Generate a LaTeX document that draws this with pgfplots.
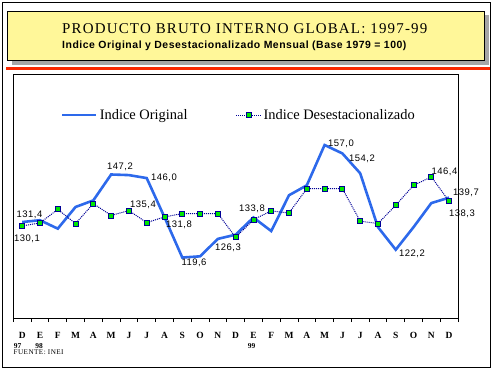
\documentclass[border=0pt]{standalone}
\usepackage{pgfplots}
\pgfplotsset{compat=1.18}
\usepackage{fontspec}
\setmainfont{Liberation Serif}
\newfontfamily\arial{Liberation Sans}
\newfontfamily\arialsp[LetterSpace=5]{Liberation Sans}
\newfontfamily\titlefont[LetterSpace=8]{Liberation Serif}
\newfontfamily\smallsp[LetterSpace=6]{Liberation Serif}
\definecolor{origblue}{RGB}{45,105,235}
\definecolor{navy}{RGB}{0,0,150}
\definecolor{mkgreen}{RGB}{0,230,0}
\definecolor{boxyellow}{RGB}{255,247,153}
\definecolor{redline}{RGB}{250,40,0}
\pgfplotsset{
  origleg/.style={legend image code/.code={\draw[##1] (0bp,0bp) -- (34bp,0bp);}},
  desleg/.style={legend image code/.code={\draw[mark repeat=2, mark phase=2, ##1] plot coordinates {(0bp,0bp) (12.5bp,0bp) (25bp,0bp)};}}
}
\begin{document}
\begin{tikzpicture}[x=1bp,y=1bp]
\path (0,0) rectangle (493,371);
\draw[line width=1bp] (2.5,4) rectangle (490.5,368);
\fill[gray!70] (11.5,306.3) rectangle (488.5,356);
\draw[line width=0.8bp, fill=boxyellow] (7.5,310.7) rectangle (484.5,359.7);
\node[anchor=base west, inner sep=0pt] at (62,337.7) {\titlefont\fontsize{15}{18}\selectfont PRODUCTO BRUTO INTERNO GLOBAL: 1997-99};
\node[anchor=base west, inner sep=0pt] at (62,322.5) {\arialsp\bfseries\fontsize{10.5}{12}\selectfont Indice Original y Desestacionalizado Mensual (Base 1979 = 100)};
\draw[redline, line width=3bp] (6,302.7) -- (490,302.7);
\begin{axis}[at={(13.3bp,53bp)}, anchor=south west, scale only axis,
  width=444.7bp, height=243.7bp,
  xmin=-0.5, xmax=24.5, ymin=99.5, ymax=180.5,
  axis line style={line width=1bp},
  ytick=\empty,
  xtick={0,...,24},
  xticklabels={D,E,F,M,A,M,J,J,A,S,O,N,D,E,F,M,A,M,J,J,A,S,O,N,D},
  major tick length=0pt,
  minor xtick={-0.5,0.5,...,24.5},
  minor tick length=4bp,
  tick align=outside, tick pos=bottom,
  minor tick style={black, line width=0.8bp},
  xticklabel style={font=\bfseries\fontsize{9.5}{10}\selectfont, anchor=north, inner sep=0pt, text height=6.5bp, yshift=-14bp},
  clip=false,
  legend style={at={(0.1005,0.833)}, anchor=west, draw=none, fill=none,
    legend columns=2, font=\fontsize{14.5}{16}\selectfont,
    /tikz/every even column/.append style={column sep=46bp}},
]
\addplot[origblue, line width=2.6bp, mark=none, origleg] coordinates {
(0,131.4) (1,132.0) (2,129.2) (3,136.4) (4,138.6) (5,147.2) (6,147.0) (7,146.0)
(8,133.0) (9,119.6) (10,120.0) (11,125.8) (12,127.2) (13,132.9) (14,128.4)
(15,140.3) (16,143.6) (17,157.0) (18,154.2) (19,147.6) (20,129.7) (21,122.2)
(22,129.7) (23,137.7) (24,139.5)};
\addlegendentry{Indice Original}
\addplot[navy, line width=1bp, densely dotted, mark=square*, mark size=2.5bp,
  mark options={solid, fill=mkgreen, draw=navy, line width=0.8bp}, desleg] coordinates {
(0,130.1) (1,131.1) (2,135.6) (3,130.9) (4,137.5) (5,133.6) (6,135.2) (7,131.2)
(8,133.1) (9,134.2) (10,134.2) (11,134.2) (12,126.3) (13,132.2) (14,135.1)
(15,134.4) (16,142.5) (17,142.5) (18,142.5) (19,131.7) (20,130.9) (21,137.0)
(22,143.6) (23,146.4) (24,138.3)};
\addlegendentry{Indice Desestacionalizado}
\end{axis}
\begin{scope}[every node/.style={font=\arialsp\fontsize{9.5}{10}\selectfont, inner sep=0pt}]
\node at (29.5,156) {131,4};
\node at (27,132) {130,1};
\node at (120,204) {147,2};
\node at (164,193) {146,0};
\node at (143,166) {135,4};
\node at (179,146) {131,8};
\node at (194,108) {119,6};
\node at (228,123) {126,3};
\node at (252,162) {133,8};
\node at (341,227) {157,0};
\node at (362,212) {154,2};
\node at (412,117) {122,2};
\node at (444.5,199) {146,4};
\node at (466,178) {139,7};
\node at (462,157) {138,3};
\end{scope}
\node[font=\bfseries\fontsize{7.5}{8}\selectfont, inner sep=0pt] at (17.5,25) {97};
\node[font=\bfseries\fontsize{7.5}{8}\selectfont, inner sep=0pt] at (39,25) {98};
\node[font=\bfseries\fontsize{7.5}{8}\selectfont, inner sep=0pt] at (251.5,25) {99};
\node[anchor=west, font=\smallsp\fontsize{7.2}{8}\selectfont, inner sep=0pt] at (13.5,18.5) {FUENTE: INEI};
\end{tikzpicture}
\end{document}
